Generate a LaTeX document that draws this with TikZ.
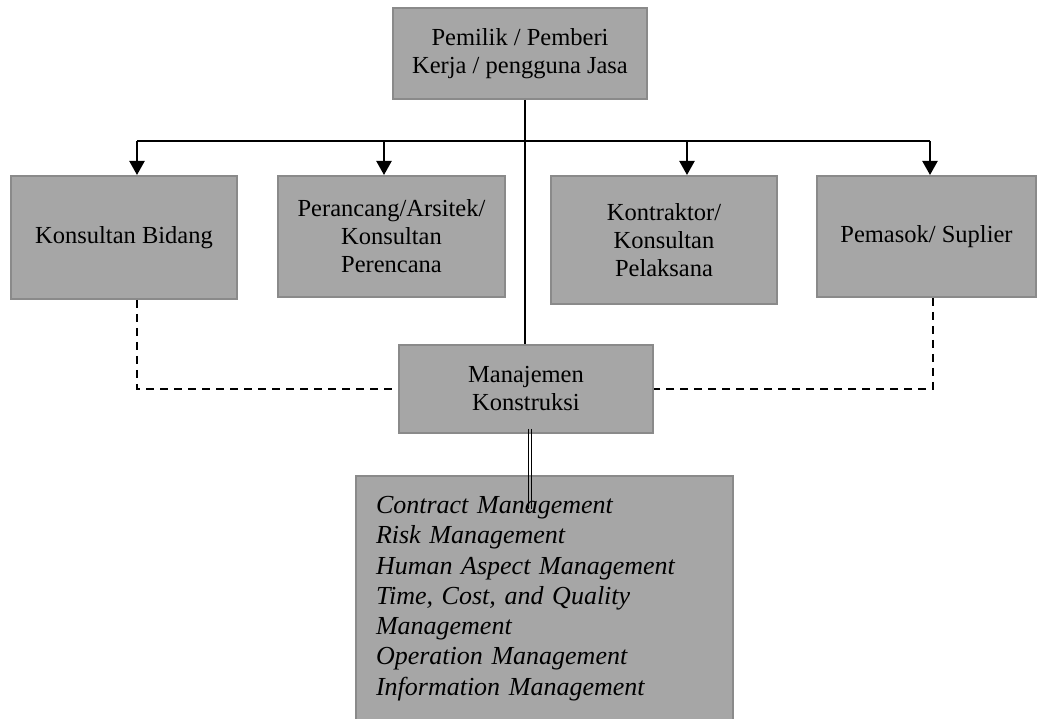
\documentclass[tikz,border=0pt]{standalone}
\usepackage{fontspec}
\setmainfont{Liberation Serif}
\usetikzlibrary{arrows.meta,calc}
\definecolor{boxfill}{HTML}{A6A6A6}
\definecolor{boxedge}{HTML}{8A8A8A}
\begin{document}
\begin{tikzpicture}[x=1pt,y=-1pt,
  box/.style={draw=boxedge, line width=2pt, fill=boxfill, rectangle, inner sep=0pt,
              align=center, font=\fontsize{24.5}{28}\selectfont},
  conn/.style={draw=black, line width=2.2pt},
  arr/.style={conn, -{Triangle[width=15pt,length=14pt]}},
  dsh/.style={draw=black, line width=2.2pt, dash pattern=on 8pt off 6pt},
  thin/.style={draw=black, line width=0.9pt}]
\useasboundingbox (0,0) rectangle (1037,719);
\fill[white] (0,0) rectangle (1037,719);

\node[box, minimum width=254pt, minimum height=91pt] (top) at (520,53.5)
  {Pemilik / Pemberi\\Kerja / pengguna Jasa};
\node[box, minimum width=226pt, minimum height=123pt] (kb) at (124,237.5)
  {Konsultan Bidang};
\node[box, minimum width=227pt, minimum height=121pt] (pr) at (391.5,236.5)
  {Perancang/Arsitek/\\Konsultan\\Perencana};
\node[box, minimum width=226pt, minimum height=128pt] (kt) at (664,240)
  {Kontraktor/\\Konsultan\\Pelaksana};
\node[box, minimum width=219pt, minimum height=121pt] (pm) at (926.5,236.5)
  {Pemasok/ Suplier};
\node[box, minimum width=254pt, minimum height=88pt] (mk) at (526,389)
  {Manajemen\\Konstruksi};
\node[box, minimum width=377pt, minimum height=245pt, anchor=north west,
      align=left, text width=337pt, inner xsep=20pt,
      font=\fontsize{26}{30.3}\selectfont\itshape] (bt) at (355,475)
  {Contract Management\\Risk Management\\Human Aspect Management\\Time, Cost, and Quality\\Management\\Operation Management\\Information Management};

% bus from owner
\coordinate (busL) at ($(kb.north)+(13,-34)$);
\coordinate (busR) at ($(pm.north)+(3.5,-34)$);
\draw[conn] (busL) -- (busR);
\draw[conn] ($(top.south)+(5,0)$) -- ($(mk.north)+(-1,0)$);
\draw[arr] (busL) -- ($(kb.north)+(13,0)$);
\draw[arr] ($(pr.north)+(-7.5,-34)$) -- ($(pr.north)+(-7.5,0)$);
\draw[arr] ($(kt.north)+(23,-34)$) -- ($(kt.north)+(23,0)$);
\draw[arr] (busR) -- ($(pm.north)+(3.5,0)$);

% dashed links
\draw[dsh] ($(kb.south)+(13,0)$) |- ($(mk.west)+(-6,0)$);
\draw[dsh] ($(pm.south)+(6.5,0)$) |- (mk.east);

% double link
\draw[thin] ($(mk.south)+(2,-5)$) -- ($(mk.south)+(2,75)$);
\draw[thin] ($(mk.south)+(5,-5)$) -- ($(mk.south)+(5,75)$);
\end{tikzpicture}
\end{document}
